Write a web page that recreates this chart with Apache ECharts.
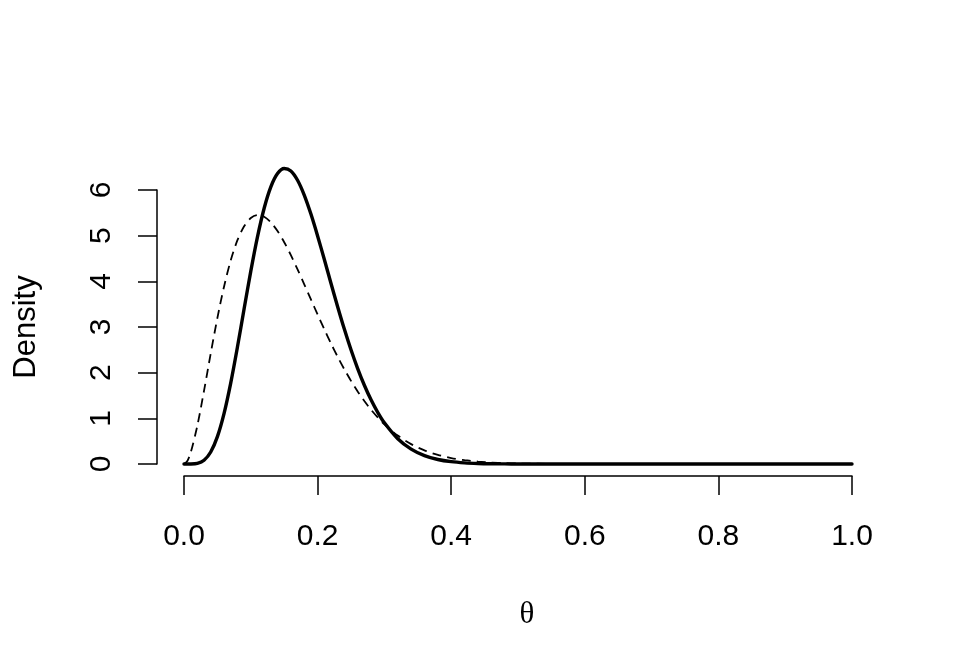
<!DOCTYPE html>
<html>
<head>
<meta charset="utf-8">
<script src="https://cdn.jsdelivr.net/npm/echarts@6/dist/echarts.min.js"></script>
<style>html,body{margin:0;padding:0;background:#fff}#c{width:960px;height:672px}</style>
</head>
<body>
<div id="c"></div>
<script>
// theta grid
const theta = [0, 0.005, 0.01, 0.02, 0.03, 0.04, 0.05, 0.06, 0.07, 0.08, 0.09, 0.10,
  0.11, 0.12, 0.13, 0.14, 0.15, 0.16, 0.17, 0.18, 0.19, 0.20,
  0.21, 0.22, 0.23, 0.24, 0.25, 0.26, 0.27, 0.28, 0.29, 0.30,
  0.32, 0.34, 0.36, 0.38, 0.40, 0.42, 0.44, 0.46, 0.48, 0.50,
  0.55, 0.60, 0.70, 0.80, 0.90, 1.00];
// solid curve (posterior density)
const posterior = [0, 0.00002, 0.0006, 0.0147, 0.0836, 0.2635, 0.5997, 1.1096, 1.7777, 2.5606, 3.3978, 4.2229,
  4.9741, 5.6009, 6.0687, 6.3597, 6.4719, 6.4161, 6.2125, 5.8884, 5.4726, 4.9946,
  4.4822, 3.9592, 3.4451, 2.9558, 2.5018, 2.0903, 1.7247, 1.4058, 1.1326, 0.9020,
  0.5531, 0.3247, 0.1825, 0.0983, 0.0507, 0.0251, 0.0118, 0.0053, 0.0023, 0.0009,
  0.0001, 0, 0, 0, 0, 0];
// dashed curve (prior density)
const prior = [0, 0.0671, 0.2475, 0.8416, 1.6070, 2.4205, 3.1986, 3.8884, 4.4603, 4.9007, 5.2070, 5.3867,
  5.4510, 5.4142, 5.2923, 5.1012, 4.8565, 4.5728, 4.2617, 3.9356, 3.6033, 3.2729,
  2.9507, 2.6412, 2.3483, 2.0743, 1.8210, 1.5889, 1.3783, 1.1887, 1.0195, 0.8695,
  0.6221, 0.4356, 0.2985, 0.2001, 0.1312, 0.0841, 0.0527, 0.0322, 0.0191, 0.0111,
  0.0025, 0.0005, 0, 0, 0, 0];
const xTicks = [0, 0.2, 0.4, 0.6, 0.8, 1.0];
const yTicks = [0, 1, 2, 3, 4, 5, 6];

const sans = '"Liberation Sans", Arial, Helvetica, sans-serif';
const chart = echarts.init(document.getElementById('c'), null, {renderer: 'canvas'});
chart.setOption({
  backgroundColor: '#ffffff',
  animation: false,
  grid: {left: 184, right: 108, top: 190, bottom: 208, containLabel: false},
  xAxis: {
    type: 'value', min: xTicks[0], max: xTicks[xTicks.length - 1], interval: 0.2,
    offset: 12,
    name: 'θ', nameLocation: 'middle', nameGap: 123,
    nameTextStyle: {fontFamily: '"Liberation Serif", "DejaVu Serif", serif', fontSize: 31, color: '#000',
      padding: [0, 0, 0, 18]},
    axisLine: {show: true, onZero: false, lineStyle: {color: '#000', width: 1.5}},
    axisTick: {show: true, length: 19, lineStyle: {color: '#000', width: 1.5}},
    axisLabel: {fontFamily: sans, fontSize: 30, color: '#000', margin: 46,
      formatter: v => v.toFixed(1)},
    splitLine: {show: false}
  },
  yAxis: {
    type: 'value', min: yTicks[0], max: yTicks[yTicks.length - 1], interval: 1,
    offset: 27,
    name: 'Density', nameLocation: 'middle', nameGap: 115, nameRotate: 90,
    nameTextStyle: {fontFamily: sans, fontSize: 31, color: '#000'},
    axisLine: {show: true, onZero: false, lineStyle: {color: '#000', width: 1.5}},
    axisTick: {show: true, length: 19, lineStyle: {color: '#000', width: 1.5}},
    axisLabel: {fontFamily: sans, fontSize: 30, color: '#000', margin: 40, rotate: 90},
    splitLine: {show: false}
  },
  series: [
    {
      type: 'line', name: 'prior', clip: false, symbol: 'none', smooth: 0.3,
      data: theta.map((t, i) => [t, prior[i]]),
      lineStyle: {color: '#000', width: 1.8, type: [9, 6]}
    },
    {
      type: 'line', name: 'posterior', clip: false, symbol: 'none', smooth: 0.3,
      data: theta.map((t, i) => [t, posterior[i]]),
      lineStyle: {color: '#000', width: 3.4, cap: 'round', join: 'round'}
    }
  ]
});
</script>
</body>
</html>
